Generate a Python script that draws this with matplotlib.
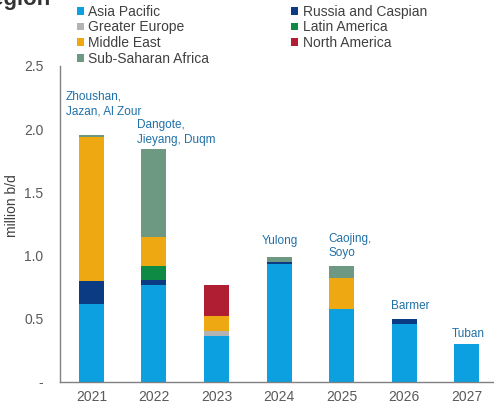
import matplotlib.pyplot as plt
import numpy as np

plt.rcParams['font.family'] = ['Liberation Sans', 'DejaVu Sans']

years = ['2021', '2022', '2023', '2024', '2025', '2026', '2027']

asia_pacific = [0.62, 0.77, 0.36, 0.93, 0.58, 0.46, 0.30]
russia_caspian = [0.18, 0.04, 0.00, 0.02, 0.00, 0.04, 0.00]
greater_europe = [0.00, 0.00, 0.04, 0.00, 0.00, 0.00, 0.00]
latin_america = [0.00, 0.11, 0.00, 0.00, 0.00, 0.00, 0.00]
middle_east = [1.14, 0.23, 0.12, 0.00, 0.24, 0.00, 0.00]
north_america = [0.00, 0.00, 0.25, 0.00, 0.00, 0.00, 0.00]
sub_saharan = [0.015, 0.69, 0.00, 0.04, 0.10, 0.00, 0.00]

projects = ['Zhoushan,\nJazan, Al Zour', 'Dangote,\nJieyang, Duqm', '',
            'Yulong', 'Caojing,\nSoyo', 'Barmer', 'Tuban']

series = [
    ('Asia Pacific', asia_pacific, '#0ca0e0'),
    ('Russia and Caspian', russia_caspian, '#0b3b82'),
    ('Greater Europe', greater_europe, '#b3b3b3'),
    ('Latin America', latin_america, '#0e8a45'),
    ('Middle East', middle_east, '#eea812'),
    ('North America', north_america, '#b01e34'),
    ('Sub-Saharan Africa', sub_saharan, '#6d9882'),
]

# label placement relative to the top of each bar
label_dx = [-0.41, -0.27, 0, -0.27, -0.21, -0.21, -0.24]
label_dy = [0.14, 0.03, 0, 0.08, 0.05, 0.05, 0.03]

fig = plt.figure(figsize=(4.94, 4.09), dpi=100)
ax = fig.add_axes([0.1215, 0.066, 0.878, 0.773])

x = np.arange(len(years))
bottom = np.zeros(len(years))
bars = {}
for name, vals, color in series:
    vals = np.array(vals)
    bars[name] = ax.bar(x, vals, width=0.4, bottom=bottom, color=color, label=name)
    bottom += vals

# project names above each bar
for i, txt in enumerate(projects):
    if not txt:
        continue
    ax.text(x[i] + label_dx[i], bottom[i] + label_dy[i], txt, ha='left', va='bottom',
            fontsize=8.5, color='#1f70a8', linespacing=1.3)

ax.set_xlim(-0.5, 6.43)
ax.set_ylim(0, 2.5)
ax.set_xticks(x)
ax.set_xticklabels(years)
ax.set_yticks([0, 0.5, 1.0, 1.5, 2.0, 2.5])
ax.set_yticklabels(['-', '0.5', '1.0', '1.5', '2.0', '2.5'])
ax.tick_params(length=0, labelsize=10, colors='#595959', pad=12)
ax.tick_params(axis='x', pad=6)
ax.set_ylabel('million b/d', fontsize=10, color='#404040')
ax.yaxis.set_label_coords(-0.095, 0.557)

for s in ['top', 'right']:
    ax.spines[s].set_visible(False)
for s in ['left', 'bottom']:
    ax.spines[s].set_color('#808080')
    ax.spines[s].set_linewidth(1.0)

order = ['Asia Pacific', 'Greater Europe', 'Middle East', 'Sub-Saharan Africa',
         'Russia and Caspian', 'Latin America', 'North America']
fig.legend([bars[n] for n in order], order, ncol=2, loc='upper left',
           bbox_to_anchor=(0.13, 1.019), frameon=False, fontsize=10,
           handlelength=0.5, handleheight=0.5, handletextpad=0.3,
           columnspacing=5.95, labelspacing=0.12, labelcolor='#404040')

fig.text(-0.05, 1.0, 'Region', fontsize=16, fontweight='bold',
         color='#333333', ha='left', va='center')

fig.savefig('out.png', dpi=100)
